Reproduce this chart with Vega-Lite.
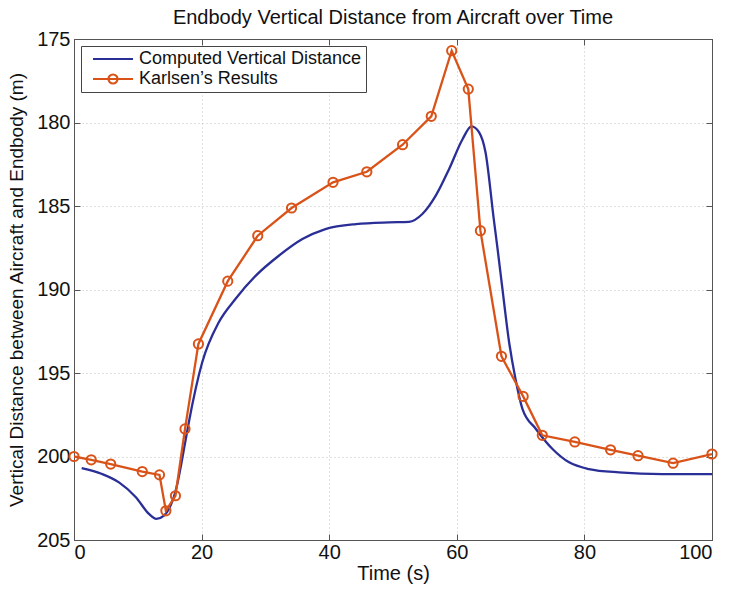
{
  "$schema": "https://vega.github.io/schema/vega-lite/v6.json",
  "width": 638,
  "height": 501,
  "padding": {"top": 8, "left": 7, "right": 9, "bottom": 4},
  "background": "white",
  "title": {"text": "Endbody Vertical Distance from Aircraft over Time", "font": "Liberation Sans", "fontSize": 20, "fontWeight": "normal", "color": "#111", "offset": 1},
  "config": {
    "view": {"stroke": "#555", "strokeWidth": 1},
    "axis": {"labelFont": "Liberation Sans", "titleFont": "Liberation Sans", "labelFontSize": 20, "titleFontSize": 19, "titleFontWeight": "normal", "labelColor": "#111", "titleColor": "#111", "domainColor": "#555", "tickColor": "#555", "gridColor": "#aaa", "gridDash": [1, 3], "gridOpacity": 0.7}
  },
  "datasets": {
    "curves": [
      {"series": "Computed Vertical Distance", "t": 1.2, "d": 200.7},
      {"series": "Computed Vertical Distance", "t": 4.4, "d": 201.05},
      {"series": "Computed Vertical Distance", "t": 7.05, "d": 201.55},
      {"series": "Computed Vertical Distance", "t": 9.7, "d": 202.44},
      {"series": "Computed Vertical Distance", "t": 11.75, "d": 203.44},
      {"series": "Computed Vertical Distance", "t": 12.9, "d": 203.74},
      {"series": "Computed Vertical Distance", "t": 14.1, "d": 203.54},
      {"series": "Computed Vertical Distance", "t": 15.9, "d": 202.1},
      {"series": "Computed Vertical Distance", "t": 17.5, "d": 199.0},
      {"series": "Computed Vertical Distance", "t": 18.0, "d": 197.95},
      {"series": "Computed Vertical Distance", "t": 20.1, "d": 194.36},
      {"series": "Computed Vertical Distance", "t": 22.7, "d": 191.96},
      {"series": "Computed Vertical Distance", "t": 25.3, "d": 190.57},
      {"series": "Computed Vertical Distance", "t": 28.5, "d": 189.17},
      {"series": "Computed Vertical Distance", "t": 32.1, "d": 187.98},
      {"series": "Computed Vertical Distance", "t": 35.8, "d": 186.98},
      {"series": "Computed Vertical Distance", "t": 39.4, "d": 186.38},
      {"series": "Computed Vertical Distance", "t": 44.2, "d": 186.08},
      {"series": "Computed Vertical Distance", "t": 49.4, "d": 185.98},
      {"series": "Computed Vertical Distance", "t": 52.5, "d": 185.95},
      {"series": "Computed Vertical Distance", "t": 54.6, "d": 185.48},
      {"series": "Computed Vertical Distance", "t": 56.7, "d": 184.38},
      {"series": "Computed Vertical Distance", "t": 58.8, "d": 182.78},
      {"series": "Computed Vertical Distance", "t": 60.9, "d": 181.0},
      {"series": "Computed Vertical Distance", "t": 62.3, "d": 180.23},
      {"series": "Computed Vertical Distance", "t": 63.5, "d": 180.59},
      {"series": "Computed Vertical Distance", "t": 64.5, "d": 181.78},
      {"series": "Computed Vertical Distance", "t": 65.8, "d": 185.8},
      {"series": "Computed Vertical Distance", "t": 66.4, "d": 187.6},
      {"series": "Computed Vertical Distance", "t": 67.1, "d": 189.8},
      {"series": "Computed Vertical Distance", "t": 68.2, "d": 193.16},
      {"series": "Computed Vertical Distance", "t": 69.2, "d": 195.36},
      {"series": "Computed Vertical Distance", "t": 70.3, "d": 197.16},
      {"series": "Computed Vertical Distance", "t": 72.4, "d": 198.35},
      {"series": "Computed Vertical Distance", "t": 75.0, "d": 199.55},
      {"series": "Computed Vertical Distance", "t": 77.6, "d": 200.35},
      {"series": "Computed Vertical Distance", "t": 80.7, "d": 200.75},
      {"series": "Computed Vertical Distance", "t": 85.4, "d": 200.95},
      {"series": "Computed Vertical Distance", "t": 92.2, "d": 201.05},
      {"series": "Computed Vertical Distance", "t": 100, "d": 201.05},
      {"series": "Karlsen’s Results", "t": 0, "d": 200.0},
      {"series": "Karlsen’s Results", "t": 2.7, "d": 200.2},
      {"series": "Karlsen’s Results", "t": 5.75, "d": 200.45},
      {"series": "Karlsen’s Results", "t": 10.7, "d": 200.9},
      {"series": "Karlsen’s Results", "t": 13.4, "d": 201.1},
      {"series": "Karlsen’s Results", "t": 14.4, "d": 203.25},
      {"series": "Karlsen’s Results", "t": 15.9, "d": 202.35},
      {"series": "Karlsen’s Results", "t": 17.4, "d": 198.35},
      {"series": "Karlsen’s Results", "t": 19.5, "d": 193.26},
      {"series": "Karlsen’s Results", "t": 24.1, "d": 189.5},
      {"series": "Karlsen’s Results", "t": 28.8, "d": 186.78},
      {"series": "Karlsen’s Results", "t": 34.1, "d": 185.12},
      {"series": "Karlsen’s Results", "t": 40.6, "d": 183.58},
      {"series": "Karlsen’s Results", "t": 45.9, "d": 182.95},
      {"series": "Karlsen’s Results", "t": 51.5, "d": 181.33},
      {"series": "Karlsen’s Results", "t": 56.0, "d": 179.63},
      {"series": "Karlsen’s Results", "t": 59.2, "d": 175.7},
      {"series": "Karlsen’s Results", "t": 61.8, "d": 178.0},
      {"series": "Karlsen’s Results", "t": 63.7, "d": 186.48},
      {"series": "Karlsen’s Results", "t": 67.0, "d": 194.0},
      {"series": "Karlsen’s Results", "t": 70.4, "d": 196.4},
      {"series": "Karlsen’s Results", "t": 73.4, "d": 198.73},
      {"series": "Karlsen’s Results", "t": 78.5, "d": 199.13},
      {"series": "Karlsen’s Results", "t": 84.1, "d": 199.6},
      {"series": "Karlsen’s Results", "t": 88.4, "d": 199.95},
      {"series": "Karlsen’s Results", "t": 93.9, "d": 200.4},
      {"series": "Karlsen’s Results", "t": 100, "d": 199.85}
    ]
  },
  "data": {"name": "curves"},
  "resolve": {"axis": {"x": "independent", "y": "independent"}},
  "layer": [
    {
      "transform": [{"filter": "datum.series == 'Computed Vertical Distance'"}],
      "mark": {"type": "line", "strokeWidth": 2.3, "interpolate": "monotone", "clip": true},
      "encoding": {
        "x": {"field": "t", "type": "quantitative", "scale": {"domain": [0, 100], "nice": false, "zero": false},
              "axis": {"title": "Time (s)", "values": [0, 20, 40, 60, 80, 100], "tickSize": -6, "labelPadding": 8, "titlePadding": 1, "titleFontSize": 20, "grid": true}},
        "y": {"field": "d", "type": "quantitative", "scale": {"domain": [175, 205], "reverse": true, "nice": false, "zero": false},
              "axis": {"title": "Vertical Distance between Aircraft and Endbody (m)", "values": [175, 180, 185, 190, 195, 200, 205], "tickSize": -6, "labelPadding": 10, "titlePadding": 10, "grid": true}},
        "color": {"field": "series", "type": "nominal",
                  "scale": {"domain": ["Computed Vertical Distance", "Karlsen’s Results"], "range": ["#2a2e97", "#d95319"]},
                  "legend": {"title": null, "orient": "top-left", "offset": 7, "padding": 4, "strokeColor": "#444", "fillColor": "white",
                             "labelFont": "Liberation Sans", "labelFontSize": 18, "labelColor": "#111", "labelLimit": 500, "labelOffset": 17, "rowPadding": 2,
                             "symbolSize": 100, "symbolOffset": 19, "symbolStrokeWidth": 2.2,
                             "encode": {"symbols": {"update": {
                               "shape": {"signal": "datum.value == 'Computed Vertical Distance' ? 'M-4,0L4,0' : 'M-4,0L4,0M0.9,0A0.9,0.9,0,1,1,-0.9,0A0.9,0.9,0,1,1,0.9,0'"},
                               "fill": {"value": "transparent"}}}}}}
      }
    },
    {
      "transform": [{"filter": "datum.series == 'Karlsen’s Results'"}],
      "mark": {"type": "line", "strokeWidth": 2.3, "clip": true},
      "encoding": {
        "x": {"field": "t", "type": "quantitative", "axis": null},
        "y": {"field": "d", "type": "quantitative", "axis": null},
        "color": {"field": "series", "type": "nominal"}
      }
    },
    {
      "transform": [{"filter": "datum.series == 'Karlsen’s Results'"}],
      "mark": {"type": "point", "shape": "circle", "filled": false, "size": 85, "strokeWidth": 2, "color": "#d95319", "opacity": 1},
      "encoding": {
        "x": {"field": "t", "type": "quantitative", "axis": {"orient": "top", "labels": false, "title": null, "values": [0, 20, 40, 60, 80, 100], "tickSize": -6, "grid": false}},
        "y": {"field": "d", "type": "quantitative", "axis": {"orient": "right", "labels": false, "title": null, "values": [175, 180, 185, 190, 195, 200, 205], "tickSize": -6, "grid": false}}
      }
    }
  ]
}
